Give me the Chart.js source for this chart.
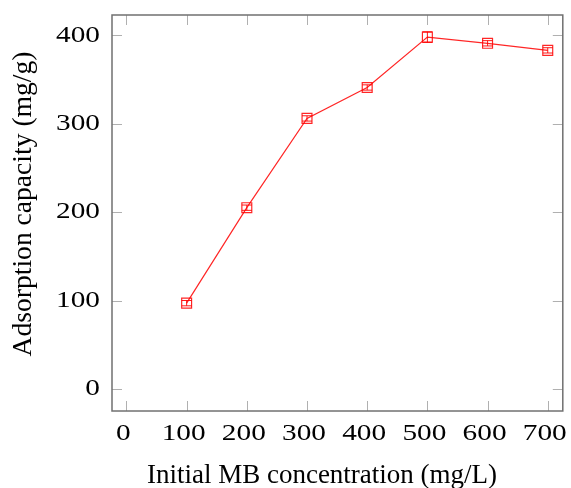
<!DOCTYPE html>
<html>
<head>
<meta charset="utf-8">
<script src="https://cdn.jsdelivr.net/npm/chart.js@4"></script>
<style>
html,body{margin:0;padding:0;background:#fff;}
#wrap{width:571px;height:488px;position:relative;}
</style>
</head>
<body>
<div id="wrap"><canvas id="c" width="571" height="488"></canvas></div>
<script>
const concentrations = [100, 200, 300, 400, 500, 600, 700];
const capacity = [97, 205, 306, 341, 398, 391, 383];
const capacityError = [3, 3, 3, 3, 6, 3, 3];
const xTicks = [0, 100, 200, 300, 400, 500, 600, 700];
const yTicks = [0, 100, 200, 300, 400];
const xTitle = 'Initial MB concentration (mg/L)';
const yTitle = 'Adsorption capacity (mg/g)';

const FONT = "'Liberation Serif', 'Times New Roman', serif";

const frame = {
  id: 'frame',
  afterDatasetsDraw(chart) {
    const {ctx, chartArea: a, scales: {x, y}} = chart;
    ctx.save();
    // inward ticks on all sides
    ctx.strokeStyle = '#b0b0b0';
    ctx.lineWidth = 1;
    const L = 10;
    xTicks.forEach(v => {
      const px = Math.round(x.getPixelForValue(v)) + 0.5;
      ctx.beginPath();
      ctx.moveTo(px, a.bottom); ctx.lineTo(px, a.bottom - L);
      ctx.moveTo(px, a.top); ctx.lineTo(px, a.top + L);
      ctx.stroke();
    });
    yTicks.forEach(v => {
      const py = Math.round(y.getPixelForValue(v)) + 0.5;
      ctx.beginPath();
      ctx.moveTo(a.left, py); ctx.lineTo(a.left + L, py);
      ctx.moveTo(a.right, py); ctx.lineTo(a.right - L, py);
      ctx.stroke();
    });
    // box
    ctx.strokeStyle = '#707070';
    ctx.lineWidth = 1.5;
    ctx.strokeRect(a.left, a.top, a.right - a.left, a.bottom - a.top);
    // error bars
    ctx.strokeStyle = 'rgba(255,0,0,0.9)';
    ctx.lineWidth = 1;
    const cap = 5;
    concentrations.forEach((c, i) => {
      const px = x.getPixelForValue(c);
      const yt = y.getPixelForValue(capacity[i] + capacityError[i]);
      const yb = y.getPixelForValue(capacity[i] - capacityError[i]);
      ctx.beginPath();
      ctx.moveTo(px, yt); ctx.lineTo(px, yb);
      ctx.moveTo(px - cap, yt); ctx.lineTo(px + cap, yt);
      ctx.moveTo(px - cap, yb); ctx.lineTo(px + cap, yb);
      ctx.stroke();
    });

    // tick labels (slightly widened like the reference)
    const SX = 1.22;
    ctx.fillStyle = '#000';
    ctx.font = "24px " + FONT;
    ctx.textBaseline = 'middle';
    ctx.textAlign = 'center';
    xTicks.forEach(v => {
      const px = x.getPixelForValue(v) - 3;
      ctx.save();
      ctx.translate(px, a.bottom + 23);
      ctx.scale(SX, 1);
      ctx.fillText(String(v), 0, 0);
      ctx.restore();
    });
    ctx.textAlign = 'right';
    yTicks.forEach(v => {
      const py = y.getPixelForValue(v);
      ctx.save();
      ctx.translate(a.left - 12, py);
      ctx.scale(SX, 1);
      ctx.fillText(String(v), 0, 0);
      ctx.restore();
    });

    // axis titles
    ctx.textAlign = 'center';
    ctx.textBaseline = 'alphabetic';
    ctx.font = "27px " + FONT;
    ctx.fillText(xTitle, 322, 483);
    ctx.save();
    ctx.translate(31, 204);
    ctx.rotate(-Math.PI / 2);
    ctx.font = "27.6px " + FONT;
    ctx.fillText(yTitle, 0, 0);
    ctx.restore();
    ctx.restore();
  }
};

new Chart(document.getElementById('c'), {
  type: 'line',
  data: {
    datasets: [{
      data: concentrations.map((c, i) => ({x: c, y: capacity[i]})),
      borderColor: 'rgba(255,0,0,0.85)',
      borderWidth: 1.2,
      backgroundColor: 'rgba(0,0,0,0)',
      pointStyle: 'rect',
      pointRadius: 7,
      pointBorderWidth: 1.2,
      pointBorderColor: 'rgba(255,0,0,0.85)',
      pointBackgroundColor: 'rgba(0,0,0,0)',
      tension: 0
    }]
  },
  plugins: [frame],
  options: {
    responsive: false,
    animation: false,
    devicePixelRatio: 1,
    layout: {padding: {left: 0, right: 4, top: 15, bottom: 0}},
    plugins: {legend: {display: false}, tooltip: {enabled: false}},
    scales: {
      x: {
        type: 'linear',
        min: -24, max: 725,
        afterBuildTicks: s => { s.ticks = xTicks.map(v => ({value: v})); },
        afterFit: s => { s.height = 77; },
        grid: {display: false, drawTicks: false},
        border: {display: false},
        ticks: {display: false},
        title: {display: false}
      },
      y: {
        type: 'linear',
        min: -25, max: 423,
        afterBuildTicks: s => { s.ticks = yTicks.map(v => ({value: v})); },
        afterFit: s => { s.width = 112; },
        grid: {display: false, drawTicks: false},
        border: {display: false},
        ticks: {display: false},
        title: {display: false}
      }
    }
  }
});
</script>
</body>
</html>
